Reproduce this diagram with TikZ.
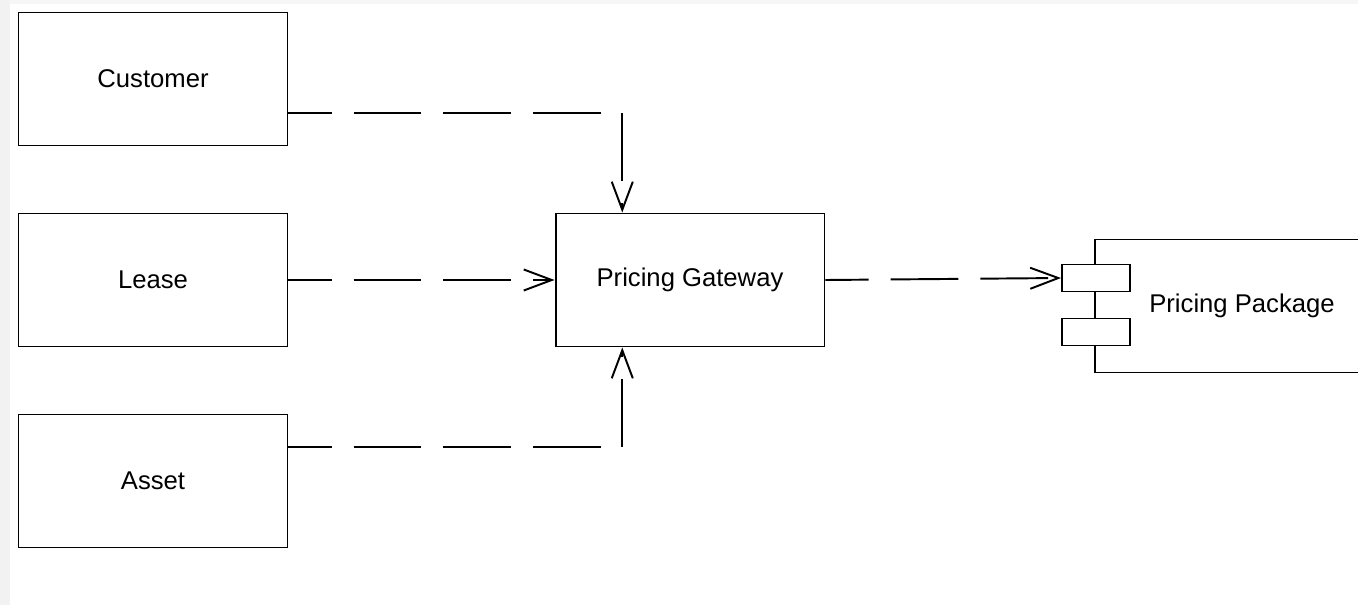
\documentclass[tikz,border=0pt]{standalone}
\usepackage{fontspec}
\setmainfont{Liberation Sans}
\usetikzlibrary{arrows.meta,calc}
\begin{document}
\begin{tikzpicture}[x=0.02cm,y=-0.02cm,
    box/.style={draw,line width=1.1pt,minimum width=5.38cm,minimum height=2.66cm,
        font=\fontsize{14.6}{17}\selectfont},
    port/.style={draw,fill=white,line width=1.1pt,minimum width=1.36cm,minimum height=0.54cm},
    dep/.style={line width=1.1pt,dash pattern=on 38.6pt off 12.5pt,dash phase=14pt,
        -{Straight Barb[length=16pt,width=12pt]}}]

    \useasboundingbox (0,0) rectangle (1358,605);
    \clip (0,0) rectangle (1358,605);
    \fill[gray!10] (0,0) rectangle (10,605);
    \fill[gray!7] (10,0) rectangle (1358,4);

    \node[box] (customer) at (153,79) {Customer};
    \node[box] (lease) at (153,280) {Lease};
    \node[box] (asset) at (153,481) {Asset};
    \node[box] (gw) at (690,280) {Pricing Gateway};
    \node[box,minimum width=5.88cm,minimum height=2.66cm] (pkg) at (1242,306) {Pricing Package};
    \node[port] (port1) at (1096,278) {};
    \node[port] (port2) at (1096,332) {};

    % connector ends
    \coordinate (custout) at ($(customer.north east)!0.75!(customer.south east)$);
    \coordinate (assetout) at ($(asset.north east)!0.25!(asset.south east)$);
    \coordinate (gwtop) at ($(gw.north west)!0.25!(gw.north east)$);
    \coordinate (gwbot) at ($(gw.south west)!0.25!(gw.south east)$);

    \draw[dep] (custout) -| (gwtop);
    \draw[dep] (lease.east) -- (gw.west);
    \draw[dep] (assetout) -| (gwbot);
    \draw[dep] (gw.east) -- (port1.west);

\end{tikzpicture}
\end{document}
